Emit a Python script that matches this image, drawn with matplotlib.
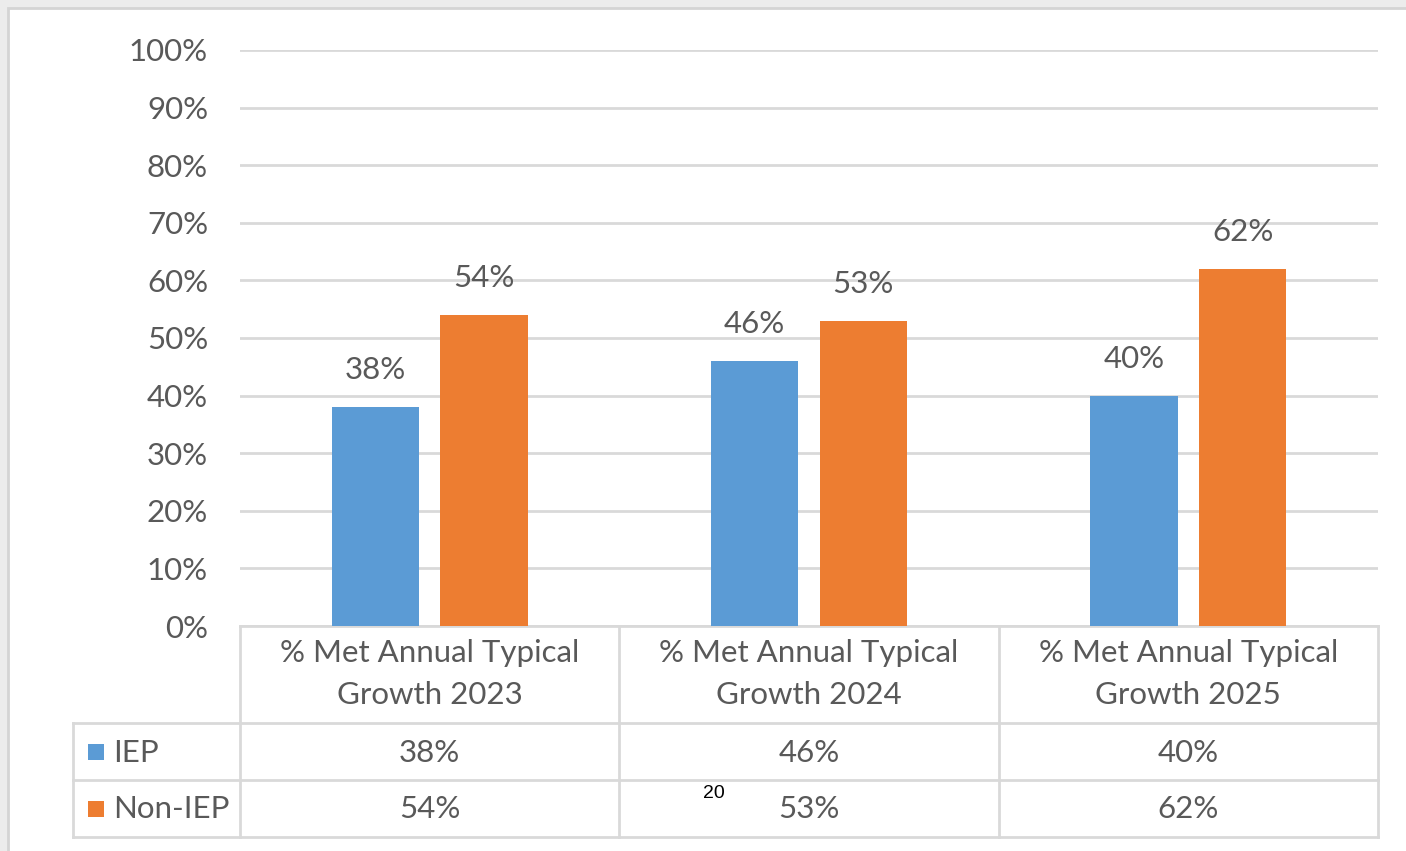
import matplotlib.pyplot as plt
import matplotlib.patches as mpatches
import numpy as np

plt.rcParams['font.family'] = ['Lato', 'DejaVu Sans']

categories = ["% Met Annual Typical\nGrowth 2023",
              "% Met Annual Typical\nGrowth 2024",
              "% Met Annual Typical\nGrowth 2025"]
series_names = ["IEP", "Non-IEP"]
iep = [38, 46, 40]
non_iep = [54, 53, 62]
yticks = [0, 10, 20, 30, 40, 50, 60, 70, 80, 90, 100]
page_number = "20"

colors = ["#5b9bd5", "#ed7d31"]
txt = "#595959"
grid = "#d9d9d9"
fs = 22.5

W, H = 1406, 851
fig = plt.figure(figsize=(W / 100, H / 100), dpi=100, facecolor="#ececec")

# overlay axes in pixel coordinates for frame and data table
ov = fig.add_axes([0, 0, 1, 1])
ov.set_xlim(0, W)
ov.set_ylim(H, 0)
ov.axis("off")
ov.add_patch(mpatches.Rectangle((8, 8), W, H, facecolor="white", edgecolor="#d4d4d4", lw=2))

# plot area
x0, x1, ytop, ybot = 240, 1378, 50, 626
ax = fig.add_axes([x0 / W, 1 - ybot / H, (x1 - x0) / W, (ybot - ytop) / H])
ax.set_facecolor("none")
x = np.arange(len(categories))
bw = 0.23
off = 0.143
for vals, c, d in zip([iep, non_iep], colors, [-off, off]):
    bars = ax.bar(x + d, vals, bw, color=c, zorder=3)
    for b, v in zip(bars, vals):
        ax.annotate(f"{v}%", (b.get_x() + b.get_width() / 2, v), xytext=(0, 26.5),
                    textcoords="offset points", ha="center", va="center",
                    fontsize=fs, color=txt)
ax.set_xlim(-0.5, len(categories) - 0.5)
ax.set_ylim(0, 100)
ax.set_yticks(yticks)
ax.set_yticklabels([f"{t}%" for t in yticks], fontsize=fs, color=txt)
ax.tick_params(axis="y", length=0, pad=23)
ax.tick_params(axis="x", length=0, labelbottom=False)
ax.yaxis.grid(True, color=grid, lw=2, zorder=0)
for s in ax.spines.values():
    s.set_visible(False)

# data table
col_w = (x1 - x0) / len(categories)
rows_y = [626, 723, 780, 837]
lk = dict(color=grid, lw=2)
for yy in rows_y:
    ov.plot([x0 if yy == 626 else 73, x1], [yy, yy], **lk)
for i in range(len(categories) + 1):
    ov.plot([x0 + i * col_w] * 2, [626, 837], **lk)
ov.plot([73, 73], [723, 837], **lk)

for i, cat in enumerate(categories):
    cx = x0 + (i + 0.5) * col_w
    ov.text(cx, 674, cat, ha="center", va="center", fontsize=fs, color=txt,
            linespacing=1.6)
    for r, vals in enumerate([iep, non_iep]):
        ov.text(cx, (rows_y[r + 1] + rows_y[r + 2]) / 2 + 1, f"{vals[i]}%",
                ha="center", va="center", fontsize=fs, color=txt)

for r, (name, c) in enumerate(zip(series_names, colors)):
    cy = (rows_y[r + 1] + rows_y[r + 2]) / 2
    ov.add_patch(mpatches.Rectangle((88, cy - 8), 16, 16, facecolor=c, edgecolor="none"))
    ov.text(113, cy + 1, name, ha="left", va="center", fontsize=fs, color=txt)

ov.text(714, 794, page_number, ha="center", va="center", fontsize=14, color="black",
        family=["Liberation Sans Narrow", "Liberation Sans", "DejaVu Sans"])

fig.savefig("out.png", dpi=100, facecolor=fig.get_facecolor())
